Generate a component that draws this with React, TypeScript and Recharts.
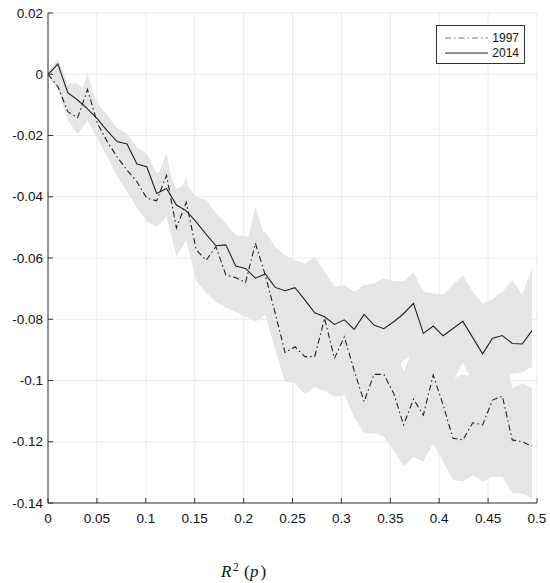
import { Area, CartesianGrid, ComposedChart, Line, XAxis, YAxis } from "recharts";

// R^2(p) sample points
const R2 = [
  0, 0.0101, 0.0202, 0.0303, 0.0404, 0.0505, 0.0606, 0.0707, 0.0808, 0.0909,
  0.101, 0.1111, 0.1212, 0.1313, 0.1414, 0.1515, 0.1616, 0.1717, 0.1818, 0.1919,
  0.202, 0.2121, 0.2222, 0.2323, 0.2424, 0.2525, 0.2626, 0.2727, 0.2828, 0.2929,
  0.303, 0.3131, 0.3232, 0.3333, 0.3434, 0.3535, 0.3636, 0.3737, 0.3838, 0.3939,
  0.404, 0.4141, 0.4242, 0.4343, 0.4444, 0.4545, 0.4646, 0.4747, 0.4848, 0.4949,
];

const Y1997 = [
  0, -0.004, -0.0122, -0.0142, -0.005, -0.016, -0.022, -0.027, -0.0313, -0.0351,
  -0.0405, -0.0413, -0.033, -0.0502, -0.0418, -0.0572, -0.0608, -0.0563, -0.0655, -0.0664,
  -0.068, -0.0552, -0.0656, -0.078, -0.0909, -0.089, -0.0922, -0.0922, -0.0797, -0.0928,
  -0.0857, -0.0968, -0.1069, -0.098, -0.098, -0.1042, -0.1145, -0.1061, -0.1113, -0.0982,
  -0.108, -0.1189, -0.1194, -0.1138, -0.1145, -0.1064, -0.1051, -0.1194, -0.12, -0.1214,
];

const Y2014 = [
  0, 0.0033, -0.006, -0.0084, -0.0113, -0.0146, -0.0185, -0.022, -0.0228, -0.0293,
  -0.0302, -0.0389, -0.0373, -0.0427, -0.0446, -0.0482, -0.0522, -0.056, -0.0557, -0.0626,
  -0.0634, -0.0666, -0.0652, -0.0696, -0.0707, -0.0697, -0.0737, -0.0779, -0.0792, -0.0817,
  -0.0802, -0.0833, -0.0784, -0.0819, -0.0831, -0.0808, -0.0782, -0.0748, -0.0846, -0.0822,
  -0.0854, -0.083, -0.0807, -0.086, -0.0913, -0.0862, -0.0853, -0.0879, -0.0881, -0.0837,
];

// confidence bands
const HI1997 = [
  0.0003, 0, -0.007, -0.008, -0.0003, -0.01, -0.015, -0.02, -0.024, -0.028,
  -0.033, -0.034, -0.0258, -0.042, -0.0335, -0.048, -0.051, -0.047, -0.055, -0.056,
  -0.057, -0.0432, -0.054, -0.066, -0.078, -0.076, -0.079, -0.079, -0.066, -0.078,
  -0.071, -0.082, -0.091, -0.083, -0.083, -0.0872, -0.0972, -0.089, -0.0943, -0.0812,
  -0.091, -0.0993, -0.098, -0.0988, -0.0975, -0.0894, -0.0881, -0.1025, -0.101, -0.1025,
];
const LO1997 = [
  -0.0003, -0.005, -0.015, -0.0195, -0.015, -0.021, -0.027, -0.0334, -0.0383, -0.0437,
  -0.0481, -0.0498, -0.0465, -0.0596, -0.0541, -0.0675, -0.0712, -0.0743, -0.0762, -0.0776,
  -0.0792, -0.0808, -0.0786, -0.09, -0.1004, -0.101, -0.1045, -0.102, -0.1035, -0.1053,
  -0.1047, -0.1118, -0.1173, -0.1173, -0.1183, -0.123, -0.1281, -0.1249, -0.1265, -0.1205,
  -0.1265, -0.1325, -0.133, -0.1309, -0.133, -0.1314, -0.1314, -0.1368, -0.1368, -0.1385,
];
const HI2014 = [
  0.0005, 0.005, -0.003, -0.003, -0.006, -0.0095, -0.0133, -0.0177, -0.0193, -0.024,
  -0.026, -0.0323, -0.03, -0.0375, -0.036, -0.04, -0.041, -0.0454, -0.0487, -0.0525,
  -0.053, -0.053, -0.0514, -0.0563, -0.059, -0.0607, -0.062, -0.0596, -0.0645, -0.0694,
  -0.0688, -0.071, -0.0688, -0.0683, -0.0666, -0.0675, -0.0677, -0.0648, -0.071, -0.0715,
  -0.072, -0.0688, -0.0656, -0.071, -0.075, -0.0735, -0.071, -0.0672, -0.072, -0.0636,
];
const LO2014 = [
  0, -0.001, -0.011, -0.014, -0.015, -0.02, -0.025, -0.029, -0.031, -0.037,
  -0.039, -0.047, -0.0455, -0.051, -0.053, -0.058, -0.062, -0.066, -0.066, -0.073,
  -0.074, -0.078, -0.077, -0.082, -0.084, -0.083, -0.087, -0.091, -0.093, -0.096,
  -0.095, -0.098, -0.093, -0.097, -0.098, -0.0958, -0.0935, -0.091, -0.0996, -0.0972,
  -0.1004, -0.1, -0.094, -0.101, -0.1063, -0.101, -0.0983, -0.0978, -0.0975, -0.0955,
];

const X_TICKS = [0, 0.05, 0.1, 0.15, 0.2, 0.25, 0.3, 0.35, 0.4, 0.45, 0.5];
const Y_TICKS = [-0.14, -0.12, -0.1, -0.08, -0.06, -0.04, -0.02, 0, 0.02];

const LINE = "#222";
const BAND = "#e5e5e5";
const GRID = "#eaeaea";
const AXIS = "#333";
const TEXT = "#111";
const SANS = "'Liberation Sans', Arial, Helvetica, sans-serif";
const DASHDOT = "6 3 1.5 3";

const data = R2.map((r2, i) => ({
  r2,
  y1997: Y1997[i],
  y2014: Y2014[i],
  band1997: [LO1997[i], HI1997[i]],
  band2014: [LO2014[i], HI2014[i]],
}));

function XTick(props: any) {
  const { x, y, payload } = props;
  return (
    <g>
      <line x1={x} x2={x} y1={y - 10} y2={y - 15} stroke={AXIS} />
      <text x={x} y={y} dy="0.71em" textAnchor="middle" fill={TEXT} fontSize={13.5} fontFamily={SANS}>
        {String(payload.value)}
      </text>
    </g>
  );
}

function YTick(props: any) {
  const { x, y, payload } = props;
  return (
    <g>
      <line x1={x + 5} x2={x + 10} y1={y} y2={y} stroke={AXIS} />
      <text x={x} y={y} dy="0.35em" textAnchor="end" fill={TEXT} fontSize={13.5} fontFamily={SANS}>
        {String(payload.value)}
      </text>
    </g>
  );
}

function LegendBox() {
  return (
    <svg width={90} height={40} style={{ position: "absolute", left: 436, top: 25 }}>
      <rect x={0.5} y={0.5} width={88} height={38} fill="#fff" stroke="#333" />
      <line x1={9} x2={52} y1={13} y2={13} stroke="#777" strokeDasharray={DASHDOT} />
      <text x={83} y={13} dy="0.35em" textAnchor="end" fontSize={12} fontFamily={SANS} fill={TEXT}>
        1997
      </text>
      <line x1={9} x2={52} y1={28} y2={28} stroke={LINE} />
      <text x={83} y={28} dy="0.35em" textAnchor="end" fontSize={12} fontFamily={SANS} fill={TEXT}>
        2014
      </text>
    </svg>
  );
}

// x axis title R^2(p), set like the LaTeX label of the original
function XLabel() {
  const serif = "'Liberation Serif', 'DejaVu Serif', serif";
  return (
    <svg width={120} height={33} style={{ position: "absolute", left: 200, top: 550 }}>
      <text y={27} fontFamily={serif} fontSize={17} fill={TEXT}>
        <tspan x={21} fontStyle="italic">R</tspan>
        <tspan x={33} dy={-6} fontSize={11.5}>2</tspan>
        <tspan x={44} dy={6}>(</tspan>
        <tspan x={50} fontStyle="italic">p</tspan>
        <tspan x={60.5}>)</tspan>
      </text>
    </svg>
  );
}

export default function App() {
  return (
    <div style={{ position: "absolute", left: 0, top: 0, width: 550, height: 583, background: "#fff" }}>
      <ComposedChart width={550} height={583} data={data} margin={{ top: 13, right: 13, bottom: 50, left: 8 }}>
        <CartesianGrid stroke={GRID} />
        <XAxis
          type="number"
          dataKey="r2"
          domain={[0, 0.5]}
          ticks={X_TICKS}
          interval={0}
          allowDataOverflow
          height={30}
          tickSize={0}
          tickMargin={10}
          tickLine={false}
          axisLine={{ stroke: AXIS }}
          tick={(p: any) => <XTick {...p} />}
        />
        <YAxis
          type="number"
          domain={[-0.14, 0.02]}
          ticks={Y_TICKS}
          interval={0}
          allowDataOverflow
          width={40}
          tickSize={0}
          tickMargin={5}
          tickLine={false}
          axisLine={{ stroke: AXIS }}
          tick={(p: any) => <YTick {...p} />}
        />
        <Area
          type="linear"
          dataKey="band2014"
          stroke="none"
          fill={BAND}
          fillOpacity={1}
          activeDot={false}
          isAnimationActive={false}
        />
        <Area
          type="linear"
          dataKey="band1997"
          stroke="none"
          fill={BAND}
          fillOpacity={1}
          activeDot={false}
          isAnimationActive={false}
        />
        <Line
          type="linear"
          dataKey="y1997"
          stroke={LINE}
          strokeWidth={1.1}
          strokeDasharray={DASHDOT}
          dot={false}
          activeDot={false}
          isAnimationActive={false}
        />
        <Line
          type="linear"
          dataKey="y2014"
          stroke={LINE}
          strokeWidth={1.1}
          dot={false}
          activeDot={false}
          isAnimationActive={false}
        />
      </ComposedChart>
      <LegendBox />
      <XLabel />
    </div>
  );
}
